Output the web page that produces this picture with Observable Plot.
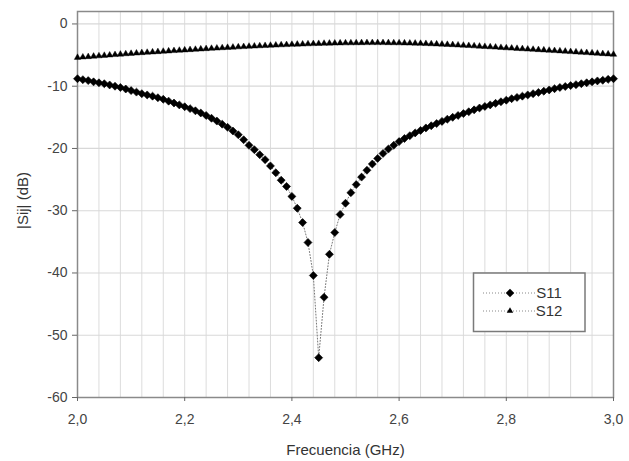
<!DOCTYPE html>
<html>
<head>
<meta charset="utf-8">
<script src="https://cdn.jsdelivr.net/npm/d3@7"></script>
<script src="https://cdn.jsdelivr.net/npm/@observablehq/plot@0.6"></script>
<style>
  html, body { margin: 0; padding: 0; background: #fff; }
</style>
</head>
<body>
<div id="chart"></div>
<script>
// Frequency sweep: 2.00 to 3.00 GHz, one sample every 0.01 GHz
const fStart = 2.0;
const fStep = 0.01;

// |S11| in dB
const s11 = [
  -8.8, -8.95, -9.1, -9.3, -9.45, -9.6, -9.8, -10.0, -10.2, -10.45,
  -10.7, -10.95, -11.2, -11.4, -11.6, -11.85, -12.1, -12.4, -12.7, -13.0,
  -13.3, -13.6, -13.95, -14.3, -14.7, -15.15, -15.6, -16.1, -16.6, -17.2,
  -17.8, -18.6, -19.5, -20.2, -21.0, -21.8, -22.8, -23.9, -25.1, -26.1,
  -27.7, -29.6, -31.9, -35.1, -40.4, -53.6, -43.9, -37.0, -33.5, -30.6,
  -28.8, -27.1, -25.8, -24.6, -23.5, -22.5, -21.6, -20.8, -20.1, -19.5,
  -18.9, -18.4, -17.95, -17.5, -17.1, -16.7, -16.35, -16.0, -15.65, -15.3,
  -15.0, -14.7, -14.4, -14.1, -13.8, -13.5, -13.25, -13.0, -12.75, -12.5,
  -12.25, -12.0, -11.8, -11.6, -11.4, -11.2, -11.0, -10.8, -10.6, -10.4,
  -10.2, -10.05, -9.9, -9.75, -9.6, -9.45, -9.3, -9.15, -9.05, -8.9,
  -8.8
];

// |S12| in dB
const s12 = [
  -5.40, -5.33, -5.27, -5.20, -5.14, -5.07, -5.01, -4.94, -4.88, -4.81,
  -4.75, -4.69, -4.63, -4.58, -4.52, -4.47, -4.41, -4.36, -4.30, -4.25,
  -4.20, -4.15, -4.10, -4.04, -3.99, -3.94, -3.89, -3.84, -3.79, -3.75,
  -3.70, -3.66, -3.61, -3.57, -3.53, -3.49, -3.45, -3.41, -3.37, -3.34,
  -3.30, -3.27, -3.24, -3.21, -3.18, -3.16, -3.13, -3.11, -3.09, -3.07,
  -3.06, -3.05, -3.04, -3.03, -3.02, -3.02, -3.02, -3.02, -3.03, -3.04,
  -3.05, -3.07, -3.09, -3.11, -3.14, -3.17, -3.20, -3.23, -3.27, -3.31,
  -3.35, -3.40, -3.44, -3.49, -3.54, -3.59, -3.64, -3.69, -3.74, -3.80,
  -3.85, -3.90, -3.95, -4.00, -4.05, -4.10, -4.15, -4.20, -4.25, -4.30,
  -4.35, -4.40, -4.46, -4.51, -4.57, -4.62, -4.68, -4.73, -4.79, -4.84,
  -4.90
];

const seriesNames = ["S11", "S12"];
const xTicks = [2.0, 2.2, 2.4, 2.6, 2.8, 3.0];
const xGrid = [2.04, 2.08, 2.12, 2.16, 2.20, 2.24, 2.28, 2.32, 2.36, 2.40, 2.44, 2.48,
               2.52, 2.56, 2.60, 2.64, 2.68, 2.72, 2.76, 2.80, 2.84, 2.88, 2.92, 2.96];
const yTicks = [0, -10, -20, -30, -40, -50, -60];
const yGrid = [0, -10, -20, -30, -40, -50];
const xLabel = "Frecuencia (GHz)";
const yLabel = "|Sij| (dB)";

const d11 = s11.map((v, i) => ({f: +(fStart + i * fStep).toFixed(2), v}));
const d12 = s12.map((v, i) => ({f: +(fStart + i * fStep).toFixed(2), v}));

const fmtX = d => d.toFixed(1).replace(".", ",");
const fmtY = d => String(d);
const FONT = "'Liberation Sans', Arial, sans-serif";

const plot = Plot.plot({
  width: 629,
  height: 461,
  marginLeft: 77,
  marginRight: 16,
  marginTop: 11,
  marginBottom: 64,
  style: {fontFamily: FONT, fontSize: "14px", color: "#444", background: "#fff", overflow: "visible"},
  x: {domain: [2, 3]},
  y: {domain: [-60, 2]},
  marks: [
    Plot.ruleX(xGrid, {stroke: "#dcdcdc", strokeWidth: 1}),
    Plot.ruleY(yGrid, {stroke: "#d8d8d8", strokeWidth: 1.2}),
    Plot.frame({stroke: "#8a8a8a", strokeWidth: 1.5}),
    Plot.axisX({ticks: xTicks, tickFormat: fmtX, tickSize: 4, tickPadding: 13, stroke: "#666", label: null}),
    Plot.axisY({ticks: yTicks, tickFormat: fmtY, tickSize: 5, tickPadding: 5, stroke: "#666", label: null}),
    Plot.line(d11, {x: "f", y: "v", stroke: "#777", strokeWidth: 1, strokeDasharray: "1 2"}),
    Plot.line(d12, {x: "f", y: "v", stroke: "#777", strokeWidth: 1, strokeDasharray: "1 2"}),
    Plot.dot(d11, {x: "f", y: "v", symbol: "diamond2", fill: "#000", stroke: "#000", strokeWidth: 0.6, r: 3.6}),
    Plot.dot(d12, {x: "f", y: "v", symbol: "triangle", fill: "#000", stroke: "#000", strokeWidth: 0.4, r: 2.4}),
    Plot.text([xLabel], {frameAnchor: "bottom", text: d => d, dy: 53, lineAnchor: "middle", fontSize: 15, fill: "#333"}),
    Plot.text([yLabel], {frameAnchor: "left", text: d => d, dx: -54, dy: -4, rotate: -90, lineAnchor: "middle", textAnchor: "middle", fontSize: 15, fill: "#333"})
  ]
});

document.getElementById("chart").appendChild(plot);

// Legend box inside the plot (lower right)
const svg = d3.select(plot);
const lg = svg.append("g").attr("font-family", FONT).attr("font-size", 15).attr("fill", "#333");
lg.append("rect").attr("x", 473.5).attr("y", 273).attr("width", 111.5).attr("height", 58.5)
  .attr("fill", "#fff").attr("stroke", "#7a7a7a").attr("stroke-width", 1.5);
const rows = [
  {name: seriesNames[0], y: 293, sym: d3.symbolDiamond2, size: Math.PI * 3.8 * 3.8},
  {name: seriesNames[1], y: 311, sym: d3.symbolTriangle, size: Math.PI * 2.4 * 2.4}
];
rows.forEach(r => {
  lg.append("line").attr("x1", 483).attr("x2", 536).attr("y1", r.y).attr("y2", r.y)
    .attr("stroke", "#888").attr("stroke-dasharray", "1 2");
  lg.append("path").attr("d", d3.symbol(r.sym, r.size)()).attr("transform", `translate(510,${r.y})`).attr("fill", "#000");
  lg.append("text").attr("x", 549).attr("y", r.y).attr("dy", "0.35em").text(r.name);
});
</script>
</body>
</html>
